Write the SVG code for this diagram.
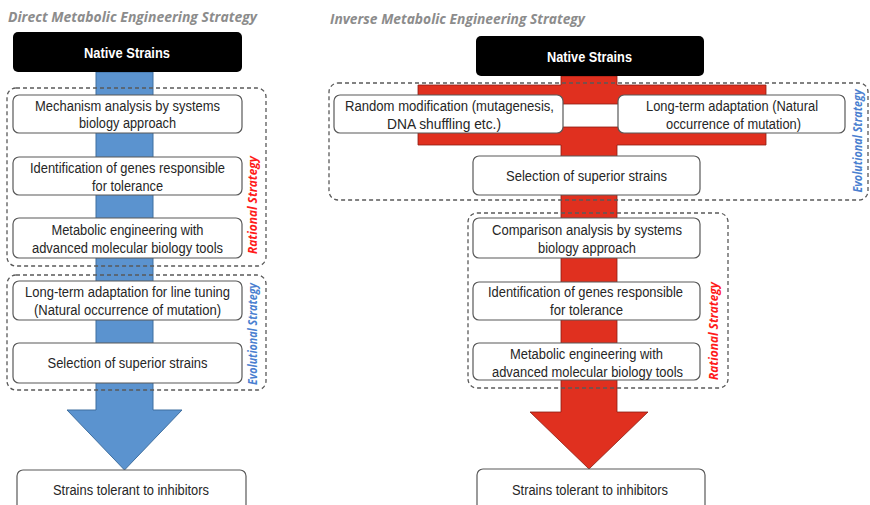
<svg xmlns="http://www.w3.org/2000/svg" width="870" height="505" viewBox="0 0 870 505">
<style>
.title{font-family:"Open Sans","Liberation Sans",sans-serif;font-weight:bold;font-style:italic;font-size:13.5px;fill:#8c8c8c}
.box{fill:#fff;stroke:#595959;stroke-width:1.2}
.dark{fill:#000}
.dash{fill:none;stroke:#595959;stroke-width:1.3;stroke-dasharray:4 3}
.t{font-family:"Liberation Sans",Arial,sans-serif;font-size:14px;fill:#262626;text-anchor:middle}
.w{font-family:"Liberation Sans",Arial,sans-serif;font-size:15px;font-weight:bold;fill:#fff;text-anchor:middle}
.v{font-family:"Open Sans","Liberation Sans",sans-serif;font-weight:bold;font-style:italic;font-size:12px;text-anchor:middle}
.red{fill:#ff1a1a}
.blue{fill:#4a7fd0}
</style>
<rect width="870" height="505" fill="#fff"/>
<text class="title" x="8" y="22" textLength="249" lengthAdjust="spacingAndGlyphs">Direct Metabolic Engineering Strategy</text>
<text class="title" x="330" y="24" textLength="255" lengthAdjust="spacingAndGlyphs">Inverse Metabolic Engineering Strategy</text>
<g id="connectors">
<path d="M96,72 V410 H67 L124.5,470 L182,410 H153 V72 Z" fill="#5b93cf" stroke="#3f6f9f" stroke-width="1"/>
<path fill-rule="evenodd" d="M561,76 V85 H418 V145 H561 V412 H530 L589,469 L648,412 H617 V145 H766 V85 H617 V76 Z M440,104 H745 V127 H440 Z" fill="#e0301f" stroke="#8a1d12" stroke-width="0.8"/>
</g>
<g id="left-dash-rational"><rect class="dash" x="7" y="88" width="259" height="178" rx="9"/>
<text class="v red" transform="translate(257,205) rotate(-90)" textLength="98" lengthAdjust="spacingAndGlyphs">Rational Strategy</text></g>
<g id="left-dash-evolutional"><rect class="dash" x="7" y="275" width="259" height="115" rx="9"/>
<text class="v blue" transform="translate(257,334) rotate(-90)" textLength="102" lengthAdjust="spacingAndGlyphs">Evolutional Strategy</text></g>
<g id="right-dash-evolutional"><rect class="dash" x="329" y="83" width="539" height="117" rx="9"/>
<text class="v blue" transform="translate(862,141) rotate(-90)" textLength="103" lengthAdjust="spacingAndGlyphs">Evolutional Strategy</text></g>
<g id="right-dash-rational"><rect class="dash" x="468" y="213" width="260" height="175" rx="9"/>
<text class="v red" transform="translate(718,331) rotate(-90)" textLength="98" lengthAdjust="spacingAndGlyphs">Rational Strategy</text></g>
<g id="l-native"><rect class="dark" x="13" y="32" width="229" height="40" rx="5"/>
<text class="w" x="127" y="58" textLength="86" lengthAdjust="spacingAndGlyphs">Native Strains</text></g>
<g id="l-mechanism"><rect class="box" x="13" y="95" width="229" height="38" rx="6"/>
<text class="t" x="127.5" y="111" textLength="185" lengthAdjust="spacingAndGlyphs">Mechanism analysis by systems</text>
<text class="t" x="127.5" y="128" textLength="97" lengthAdjust="spacingAndGlyphs">biology approach</text></g>
<g id="l-identification"><rect class="box" x="13" y="157" width="229" height="38" rx="6"/>
<text class="t" x="127.5" y="173" textLength="195" lengthAdjust="spacingAndGlyphs">Identification of genes responsible</text>
<text class="t" x="127.5" y="191" textLength="71" lengthAdjust="spacingAndGlyphs">for tolerance</text></g>
<g id="l-metabolic"><rect class="box" x="13" y="218" width="229" height="40" rx="6"/>
<text class="t" x="127.5" y="235" textLength="152" lengthAdjust="spacingAndGlyphs">Metabolic engineering with</text>
<text class="t" x="127.5" y="253" textLength="191" lengthAdjust="spacingAndGlyphs">advanced molecular  biology tools</text></g>
<g id="l-longterm"><rect class="box" x="13" y="281" width="229" height="39" rx="6"/>
<text class="t" x="127.5" y="297" textLength="205" lengthAdjust="spacingAndGlyphs">Long-term adaptation for line tuning</text>
<text class="t" x="127.5" y="315" textLength="187" lengthAdjust="spacingAndGlyphs">(Natural occurrence of mutation)</text></g>
<g id="l-selection"><rect class="box" x="13" y="343" width="229" height="40" rx="6"/>
<text class="t" x="127.5" y="368" textLength="160" lengthAdjust="spacingAndGlyphs">Selection of superior strains</text></g>
<g id="l-final"><rect class="box" x="17" y="470" width="229" height="45" rx="6"/>
<text class="t" x="131" y="495" textLength="156" lengthAdjust="spacingAndGlyphs">Strains tolerant to inhibitors</text></g>
<g id="r-native"><rect class="dark" x="476" y="36" width="228" height="40" rx="5"/>
<text class="w" x="589.5" y="62" textLength="85" lengthAdjust="spacingAndGlyphs">Native Strains</text></g>
<g id="r-random"><rect class="box" x="334" y="95" width="229" height="38" rx="6"/>
<text class="t" x="449.5" y="111" textLength="209" lengthAdjust="spacingAndGlyphs">Random modification (mutagenesis,</text>
<text class="t" x="444" y="129" textLength="114" lengthAdjust="spacingAndGlyphs">DNA shuffling etc.)</text></g>
<g id="r-longterm"><rect class="box" x="618" y="95" width="227" height="38" rx="6"/>
<text class="t" x="732" y="111" textLength="172" lengthAdjust="spacingAndGlyphs">Long-term adaptation (Natural</text>
<text class="t" x="733.5" y="129" textLength="135" lengthAdjust="spacingAndGlyphs">occurrence of mutation)</text></g>
<g id="r-selection"><rect class="box" x="473" y="156" width="227" height="39" rx="6"/>
<text class="t" x="586.5" y="181" textLength="161" lengthAdjust="spacingAndGlyphs">Selection of superior strains</text></g>
<g id="r-comparison"><rect class="box" x="473" y="218" width="227" height="40" rx="6"/>
<text class="t" x="587" y="235" textLength="190" lengthAdjust="spacingAndGlyphs">Comparison analysis by systems</text>
<text class="t" x="587" y="253" textLength="98" lengthAdjust="spacingAndGlyphs">biology approach</text></g>
<g id="r-identification"><rect class="box" x="473" y="282" width="227" height="38" rx="6"/>
<text class="t" x="585.5" y="297" textLength="195" lengthAdjust="spacingAndGlyphs">Identification of genes responsible</text>
<text class="t" x="586.5" y="315" textLength="73" lengthAdjust="spacingAndGlyphs">for tolerance</text></g>
<g id="r-metabolic"><rect class="box" x="473" y="343" width="227" height="37" rx="6"/>
<text class="t" x="586.5" y="359" textLength="153" lengthAdjust="spacingAndGlyphs">Metabolic engineering with</text>
<text class="t" x="587.5" y="377" textLength="191" lengthAdjust="spacingAndGlyphs">advanced molecular  biology tools</text></g>
<g id="r-final"><rect class="box" x="477" y="469" width="228" height="45" rx="6"/>
<text class="t" x="590" y="495" textLength="156" lengthAdjust="spacingAndGlyphs">Strains tolerant to inhibitors</text></g>
</svg>
